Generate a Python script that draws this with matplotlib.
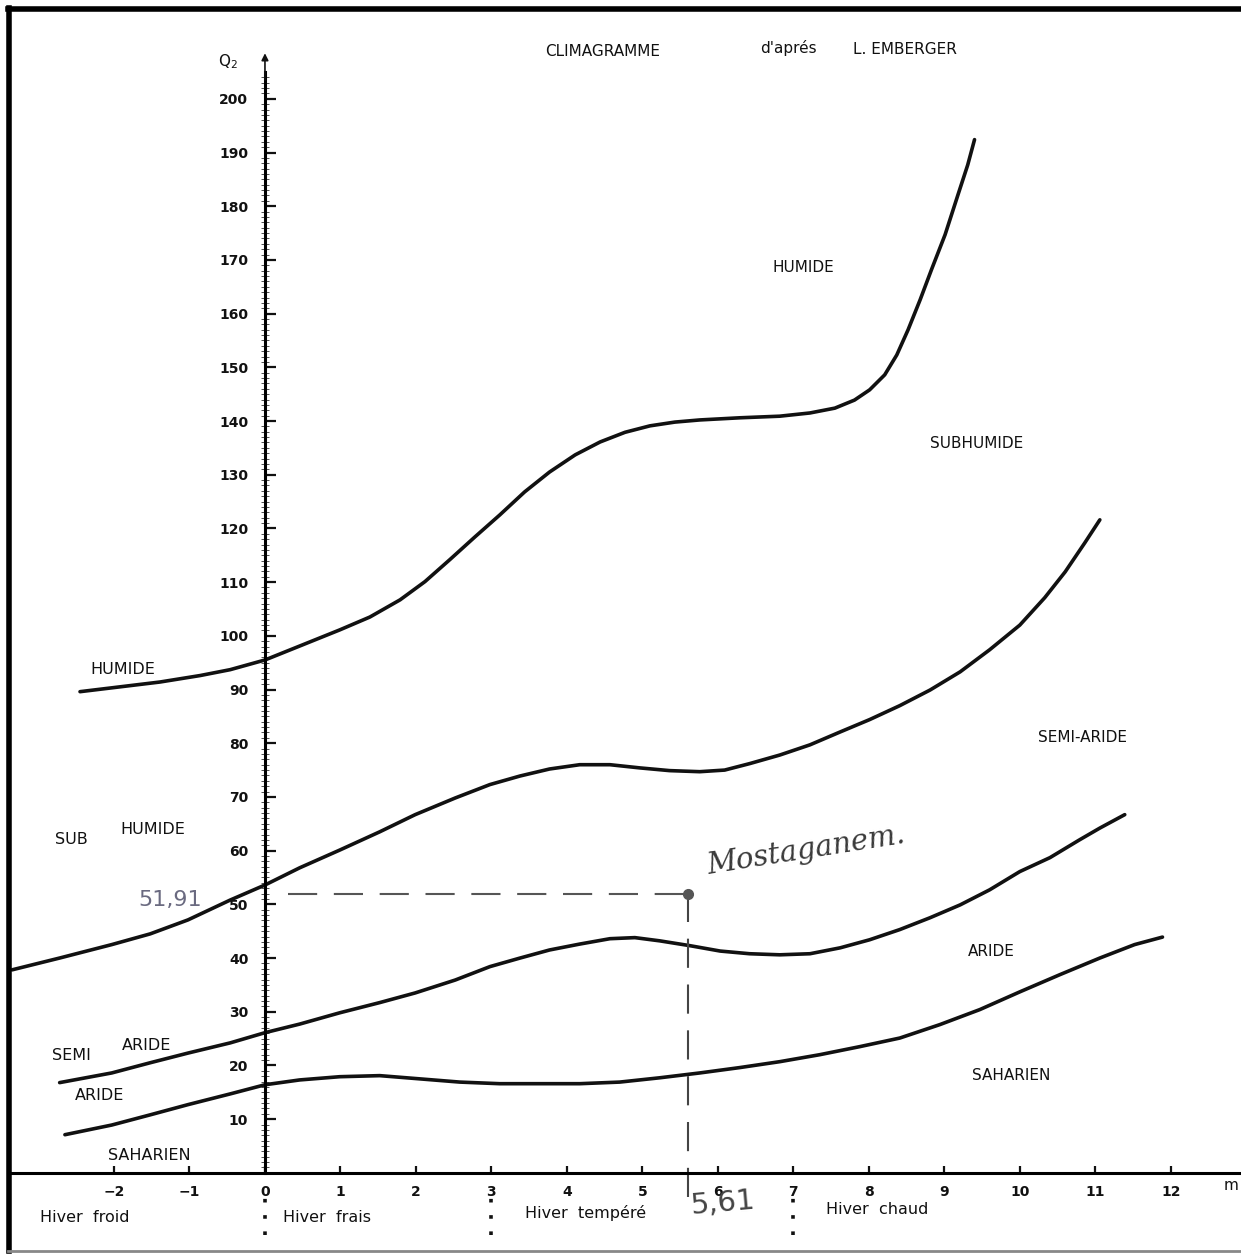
import matplotlib
matplotlib.use('Agg')
import matplotlib.pyplot as plt
from matplotlib.lines import Line2D

# Emberger climagramme: m (deg C) on x, Q2 on y
humide_m = [-2.45, -1.92, -1.39, -0.86, -0.46, 0.0, 0.46, 0.99, 1.39, 1.79, 2.12, 2.45,
            2.78, 3.11, 3.44, 3.77, 4.11, 4.44, 4.77, 5.10, 5.43, 5.76, 6.29, 6.82,
            7.22, 7.55, 7.81, 8.01, 8.21, 8.37, 8.52, 8.68, 8.83, 9.01, 9.18, 9.31, 9.40]
humide_q = [89.6, 90.5, 91.4, 92.6, 93.7, 95.5, 98.1, 101.1, 103.5, 106.7, 110.1, 114.2,
            118.4, 122.5, 126.8, 130.5, 133.7, 136.1, 137.9, 139.1, 139.8, 140.2, 140.6, 140.9,
            141.5, 142.4, 143.9, 145.8, 148.6, 152.3, 157.0, 162.6, 168.2, 174.7, 182.1, 187.7, 192.4]

subhumide_m = [-3.35, -2.72, -2.03, -1.52, -1.02, -0.46, 0.0, 0.46, 0.99, 1.52, 1.99, 2.52,
               2.98, 3.38, 3.77, 4.17, 4.57, 4.97, 5.36, 5.76, 6.09, 6.42, 6.82, 7.22,
               7.62, 8.01, 8.41, 8.81, 9.21, 9.60, 10.00, 10.33, 10.60, 10.86, 11.06]
subhumide_q = [37.8, 40.0, 42.5, 44.5, 47.1, 50.8, 53.6, 56.8, 60.1, 63.5, 66.7, 69.8,
               72.3, 73.9, 75.2, 76.0, 76.0, 75.4, 74.9, 74.7, 75.0, 76.2, 77.8, 79.7,
               82.1, 84.4, 87.0, 89.9, 93.3, 97.4, 102.0, 107.1, 111.9, 117.3, 121.6]

semiaride_m = [-2.72, -2.03, -1.52, -1.02, -0.46, 0.0, 0.46, 0.99, 1.52, 1.99, 2.52, 2.98,
               3.38, 3.77, 4.17, 4.57, 4.90, 5.23, 5.63, 6.03, 6.42, 6.82, 7.22, 7.62,
               8.01, 8.41, 8.81, 9.21, 9.60, 10.00, 10.40, 10.79, 11.06, 11.39]
semiaride_q = [16.8, 18.6, 20.5, 22.3, 24.2, 26.1, 27.7, 29.8, 31.7, 33.5, 35.9, 38.4,
               40.0, 41.5, 42.6, 43.6, 43.8, 43.2, 42.3, 41.3, 40.8, 40.6, 40.8, 41.9,
               43.4, 45.3, 47.5, 49.9, 52.7, 56.1, 58.7, 62.0, 64.2, 66.7]

aride_m = [-2.65, -2.03, -1.52, -1.02, -0.46, 0.0, 0.46, 0.99, 1.52, 2.05, 2.58, 3.11,
           3.64, 4.17, 4.70, 5.23, 5.76, 6.29, 6.82, 7.35, 7.88, 8.41, 8.94, 9.47,
           10.00, 10.53, 11.06, 11.52, 11.89]
aride_q = [7.1, 8.9, 10.8, 12.7, 14.7, 16.4, 17.3, 17.9, 18.1, 17.5, 16.9, 16.6,
           16.6, 16.6, 16.9, 17.7, 18.6, 19.6, 20.7, 22.0, 23.5, 25.1, 27.6, 30.4,
           33.7, 36.9, 40.0, 42.5, 43.9]

# station
station = "Mostaganem."
station_m = 5.61
station_q = 51.91

x_ticks = list(range(-2, 13))
y_ticks = list(range(10, 201, 10))
winter_limits = [0, 3, 7]

fig = plt.figure(figsize=(12.41, 12.55), dpi=100)
ax = fig.add_axes([0, 0, 1, 1])
ax.set_xlim(-3.51, 12.93)
ax.set_ylim(-15.3, 218.4)


def fx(px):
    return px / 1241


def fy(py):
    return 1 - py / 1255


ink = '#111111'

# axes through the origin
for s in ['top', 'right']:
    ax.spines[s].set_visible(False)
ax.spines['left'].set_position(('data', 0))
ax.spines['bottom'].set_position(('data', 0))
ax.spines['left'].set_bounds(0, 205)
ax.spines['bottom'].set_bounds(-3.35, 12.93)
ax.spines['left'].set_linewidth(2.2)
ax.spines['bottom'].set_linewidth(2.2)

ax.set_yticks(y_ticks)
ax.set_yticklabels([str(v) for v in y_ticks])
ax.set_yticks([v for v in range(1, 205)], minor=True)
ax.tick_params(axis='y', which='major', direction='in', length=8, width=1.6,
               pad=12, labelsize=10, colors=ink)
ax.tick_params(axis='y', which='minor', direction='inout', length=6, width=0.6, colors='#333333')

ax.set_xticks(x_ticks)
ax.set_xticklabels([str(v).replace('-', '\u2212') for v in x_ticks])
ax.tick_params(axis='x', direction='in', length=5, width=1.6, pad=9,
               labelsize=10, colors=ink)
for lbl in ax.get_xticklabels() + ax.get_yticklabels():
    lbl.set_fontweight('bold')

ax.annotate('', xy=(0, 209), xytext=(0, 203),
            arrowprops=dict(arrowstyle='-|>', color=ink, lw=1.2))

# limit curves
for m, q in [(humide_m, humide_q), (subhumide_m, subhumide_q),
             (semiaride_m, semiaride_q), (aride_m, aride_q)]:
    ax.plot(m, q, color=ink, lw=2.6, solid_capstyle='round', solid_joinstyle='round')

# winter type separators
ax.vlines(winter_limits, -11.5, -4.5, colors=ink, linestyles=(0, (1, 3.5)), lw=2.6)

# station point with reading lines
ax.hlines(station_q, 0.3, station_m, colors='#555555', lw=1.5, linestyles=(0, (14, 8)))
ax.vlines(station_m, -4.5, station_q, colors='#444444', lw=1.5, linestyles=(0, (14, 8)))
ax.plot([station_m], [station_q], 'o', color='#555555', ms=7)


# texts
def lab(px, py, s, size=10, ha='left', **kw):
    fig.text(fx(px), fy(py), s, ha=ha, va='center', fontsize=size, color=ink, **kw)


lab(218, 62, 'Q$_2$', 11)
lab(545, 52, 'CLIMAGRAMME', 11)
lab(760, 48, "d'aprés", 11)
lab(853, 50, 'L. EMBERGER', 11)

lab(772, 268, 'HUMIDE', 11)
lab(930, 443, 'SUBHUMIDE', 11)
lab(1038, 737, 'SEMI-ARIDE', 11)
lab(968, 952, 'ARIDE', 11)
lab(972, 1075, 'SAHARIEN', 11)

lab(90, 670, 'HUMIDE', 11.5)
lab(55, 840, 'SUB', 11.5)
lab(120, 830, 'HUMIDE', 11.5)
lab(52, 1056, 'SEMI', 11.5)
lab(122, 1045, 'ARIDE', 11.5)
lab(75, 1096, 'ARIDE', 11.5)
lab(108, 1155, 'SAHARIEN', 11.5)

lab(40, 1218, 'Hiver  froid', 11.5)
lab(283, 1218, 'Hiver  frais', 11.5)
lab(525, 1213, 'Hiver  tempéré', 11.5)
lab(826, 1210, 'Hiver  chaud', 11.5)
lab(1224, 1185, 'm', 11)

# handwritten annotations
fig.text(fx(705), fy(850), station, fontsize=21, color='#3a3a3a', rotation=9,
         va='center', ha='left', family='DejaVu Serif', style='italic')
fig.text(fx(138), fy(900), '51,91', fontsize=16, color='#6a6a80', va='center', ha='left')
fig.text(fx(690), fy(1203), '5,61', fontsize=21, color='#444444', va='center', ha='left',
         rotation=5)

# scan frame
fig.add_artist(Line2D([fx(8), fx(1241)], [fy(9), fy(9)], transform=fig.transFigure,
                      color='black', lw=4))
fig.add_artist(Line2D([fx(9), fx(9)], [fy(8), fy(1251)], transform=fig.transFigure,
                      color='black', lw=4))
fig.add_artist(Line2D([fx(8), fx(1241)], [fy(1251), fy(1251)], transform=fig.transFigure,
                      color='#888888', lw=2))

fig.savefig('out.png', dpi=100)
